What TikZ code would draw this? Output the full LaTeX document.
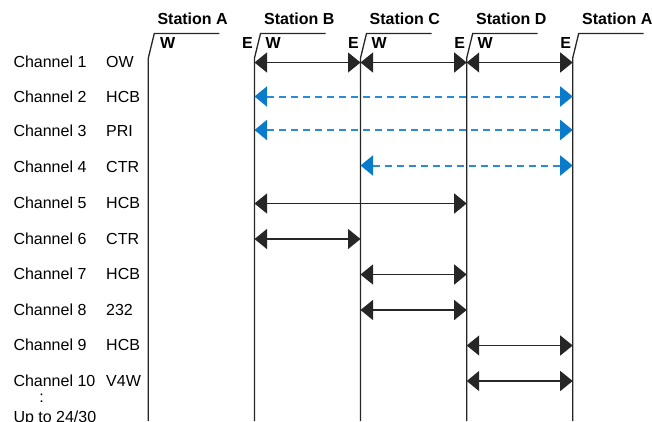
\documentclass[tikz,border=0pt]{standalone}
\usepackage{fontspec}
\setmainfont{Liberation Sans}
\usetikzlibrary{arrows.meta}
\definecolor{rulegray}{HTML}{262626}
\definecolor{linkblue}{HTML}{0A7BCB}
\definecolor{dashblue}{HTML}{2A8BD6}

\begin{document}
\begin{tikzpicture}[x=1pt,y=-1pt,
  txt/.style={font=\fontsize{16}{18}\selectfont, inner sep=0pt, anchor=base west},
  head/.style={font=\fontsize{16}{18}\selectfont\bfseries, inner sep=0pt, anchor=base west},
  sideE/.style={font=\fontsize{16}{18}\selectfont\bfseries, inner sep=0pt, anchor=base east},
  sideW/.style={font=\fontsize{16}{18}\selectfont\bfseries, inner sep=0pt, anchor=base west},
  stationline/.style={draw=rulegray, line width=1.3pt},
  tip/.style={Triangle[length=12.5pt,width=20pt]},
  link/.style={draw=rulegray, line width=1.3pt, {Triangle[length=12.5pt,width=20pt]}-{Triangle[length=12.5pt,width=20pt]}},
  dlink/.style={draw=dashblue, line width=2pt, dash pattern=on 7.5pt off 4.5pt,
    {Triangle[length=12.5pt,width=20pt,fill=linkblue,color=linkblue]}-{Triangle[length=12.5pt,width=20pt,fill=linkblue,color=linkblue]}},
]
\useasboundingbox (0,0) rectangle (652,421);
\clip (0,0) rectangle (652,421);

% station lines with slanted header rules and per-row coordinates
\foreach \n/\px in {sa/148.3, sb/254.5, sc/360.5, sd/466.7, se/572.7} {
  \coordinate (\n-foot) at (\px,421);
  \coordinate (\n-knee) at (\px,58);
  \coordinate (\n-top) at (\px+6,33.5);
  \coordinate (\n-end) at (\px+71,33.5);
  \draw[stationline] (\n-foot) -- (\n-knee) -- (\n-top) -- (\n-end);
  \foreach \r/\py in {1/62.5, 2/96.5, 3/130, 4/165.5, 5/203.5, 6/239, 7/274.5, 8/310, 9/345.5, 10/381} {
    \coordinate (\n-\r) at (\px,\py);
  }
}

% station names
\node[head] (name-a) at (157.3,24.2) {Station A};
\node[head] (name-b) at (264,24.2) {Station B};
\node[head] (name-c) at (369.5,24.2) {Station C};
\node[head] (name-d) at (476,24.2) {Station D};
\node[head] (name-e) at (582,24.2) {Station A};

% east / west side markers
\node[sideW] (w-a) at (159.8,48.3) {W};
\node[sideE] (e-b) at (253,48.3) {E};
\node[sideW] (w-b) at (265.5,48.3) {W};
\node[sideE] (e-c) at (359,48.3) {E};
\node[sideW] (w-c) at (371.5,48.3) {W};
\node[sideE] (e-d) at (465.2,48.3) {E};
\node[sideW] (w-d) at (477.4,48.3) {W};
\node[sideE] (e-e) at (571.2,48.3) {E};

% channel list
\foreach \r/\py/\kind in {1/62/OW, 2/97/HCB, 3/131/PRI, 4/166.5/CTR, 5/202.5/HCB,
                          6/238.5/CTR, 7/274/HCB, 8/310/232, 9/345/HCB, 10/381/V4W} {
  \node[txt] (ch\r) at (13.3,\py+5.7) {Channel \r};
  \node[txt] (kind\r) at (106,\py+5.7) {\kind};
}
\node[txt, anchor=center] (dots) at (41.7,398.5) {:};
\node[txt] (upto) at (13.3,422) {Up to 24/30};

% channel connections
\draw[link] (sb-1) -- (sc-1);
\draw[link] (sc-1) -- (sd-1);
\draw[link] (sd-1) -- (se-1);
\draw[dlink] (sb-2) -- (se-2);
\draw[dlink] (sb-3) -- (se-3);
\draw[dlink] (sc-4) -- (se-4);
\draw[link] (sb-5) -- (sd-5);
\draw[link] (sb-6) -- (sc-6);
\draw[link] (sc-7) -- (sd-7);
\draw[link] (sc-8) -- (sd-8);
\draw[link] (sd-9) -- (se-9);
\draw[link] (sd-10) -- (se-10);
\end{tikzpicture}
\end{document}
